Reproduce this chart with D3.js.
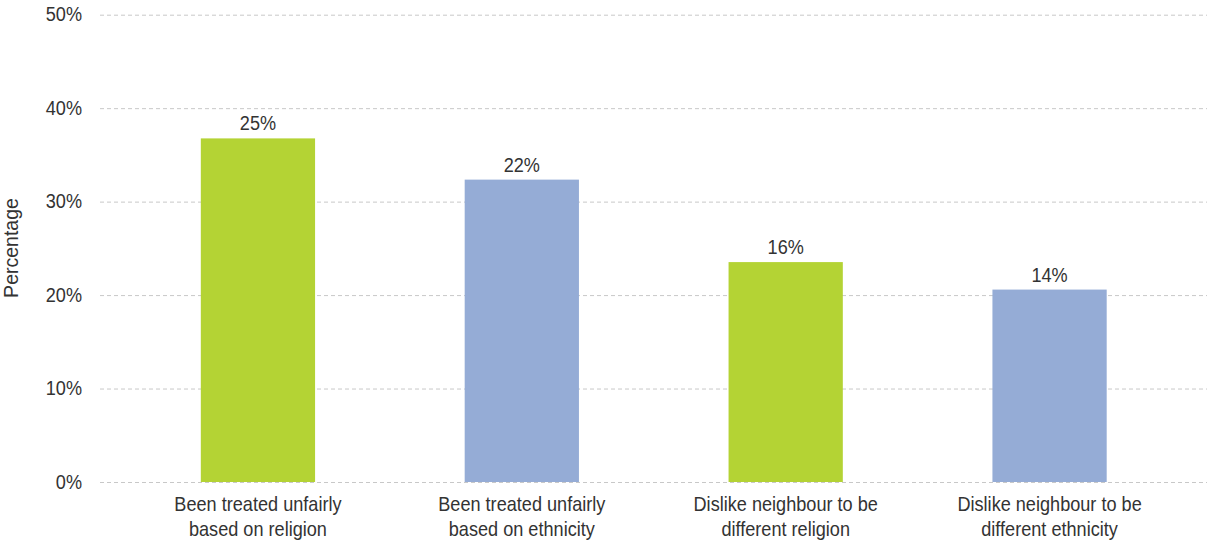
<!DOCTYPE html>
<html>
<head>
<meta charset="utf-8">
<script src="https://cdn.jsdelivr.net/npm/d3@7"></script>
<style>
  html, body { margin: 0; padding: 0; background: #fff; }
  svg text { font-family: "Liberation Sans", Arial, sans-serif; fill: #333; }
</style>
</head>
<body>
<svg id="chart" width="1207" height="542"></svg>
<script>
// Categories (two lines each), survey shares and bar colours
const categories = [
  ["Been treated unfairly", "based on religion"],
  ["Been treated unfairly", "based on ethnicity"],
  ["Dislike neighbour to be", "different religion"],
  ["Dislike neighbour to be", "different ethnicity"]
];
const values = [25, 22, 16, 14];
const colors = ["#b4d334", "#95acd6", "#b4d334", "#95acd6"];
const tickValues = [0, 10, 20, 30, 40, 50];
const tickLabels = ["0%", "10%", "20%", "30%", "40%", "50%"];
const axisTitle = "Percentage";

const plot = { left: 100, right: 1207, top: 14.7, bottom: 482, bandLeft: 126, bandRight: 1181.5 };
const FS = 19.5;      // font size
const SX = 0.93;      // horizontal squeeze for a narrow typeface look

const svg = d3.select("#chart");

// Place a text at (x, y) with the narrow squeeze applied around its anchor
function narrowText(g, x, y, str, anchor) {
  return g.append("text")
    .attr("transform", `translate(${x},${y}) scale(${SX},1)`)
    .attr("text-anchor", anchor || "middle")
    .attr("font-size", FS)
    .text(str);
}

// Gridline scale carries the printed percentage ticks
const yGrid = d3.scaleLinear().domain([0, 50]).range([plot.bottom, plot.top]);
// Bar scale: printed 50% line sits at a 34% value
const yBar = d3.scaleLinear().domain([0, 34]).range([plot.bottom, plot.top]);

const x = d3.scaleBand()
  .domain(d3.range(categories.length))
  .range([plot.bandLeft, plot.bandRight])
  .paddingInner(0.567)
  .paddingOuter(0.2835);

// Dashed gridlines with percentage labels
const yAxis = d3.axisLeft(yGrid)
  .tickValues(tickValues)
  .tickFormat((d, i) => tickLabels[i])
  .tickSize(-(plot.right - plot.left))
  .tickPadding(18 / SX);

const gy = svg.append("g")
  .attr("transform", `translate(${plot.left},0)`)
  .call(yAxis);
gy.select(".domain").remove();
gy.selectAll(".tick line")
  .attr("stroke", "#c8c8c8")
  .attr("stroke-width", 1)
  .attr("stroke-dasharray", "4,3");
gy.selectAll(".tick text")
  .attr("font-size", FS)
  .attr("fill", "#333")
  .attr("font-family", '"Liberation Sans", Arial, sans-serif')
  .attr("transform", `scale(${SX},1)`);

// Bars
svg.append("g").selectAll("rect")
  .data(values)
  .join("rect")
  .attr("x", (d, i) => x(i))
  .attr("width", x.bandwidth())
  .attr("y", d => yBar(d))
  .attr("height", d => plot.bottom - yBar(d))
  .attr("fill", (d, i) => colors[i]);

// Value labels above bars
const gv = svg.append("g");
values.forEach((v, i) => {
  narrowText(gv, x(i) + x.bandwidth() / 2, yBar(v) - 8, v + "%");
});

// Two-line category labels
const gc = svg.append("g");
categories.forEach((lines, i) => {
  lines.forEach((line, j) => {
    narrowText(gc, x(i) + x.bandwidth() / 2, 511 + j * 24.5, line);
  });
});

// Y axis title
svg.append("text")
  .attr("transform", `translate(18,248) rotate(-90)`)
  .attr("text-anchor", "middle")
  .attr("font-size", FS)
  .text(axisTitle);
</script>
</body>
</html>
